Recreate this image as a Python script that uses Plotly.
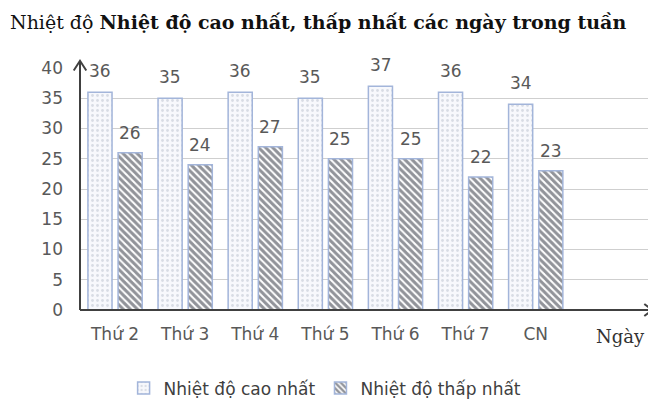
import plotly.graph_objects as go

categories = ["Thứ 2", "Thứ 3", "Thứ 4", "Thứ 5", "Thứ 6", "Thứ 7", "CN"]
high_temps = [36, 35, 36, 35, 37, 36, 34]
low_temps = [26, 24, 27, 25, 25, 22, 23]
series_names = ["Nhiệt độ cao nhất", "Nhiệt độ thấp nhất"]
y_ticks = [0, 5, 10, 15, 20, 25, 30, 35, 40]

FONT = "DejaVu Sans"
SERIF = "DejaVu Serif"
GRAY = "#595959"

fig = go.Figure()
fig.add_trace(go.Bar(
    x=categories, y=high_temps, name=series_names[0],
    marker=dict(color="#f4f6fb", line=dict(color="#a3b5da", width=1.5),
                pattern=dict(shape=".", fgcolor="#b8bfcc", bgcolor="#f7f8fc", size=5, solidity=0.25)),
))
fig.add_trace(go.Bar(
    x=categories, y=low_temps, name=series_names[1],
    marker=dict(color="#ffffff", line=dict(color="#a3b5da", width=1.5),
                pattern=dict(shape="\\", fgcolor="#232733", bgcolor="#ffffff", size=5, solidity=0.6)),
))

# data labels
for i, c in enumerate(categories):
    fig.add_annotation(x=c, y=high_temps[i], text=str(high_temps[i]), showarrow=False,
                       xshift=-15, yshift=21, font=dict(family=FONT, size=17, color=GRAY))
    fig.add_annotation(x=c, y=low_temps[i], text=str(low_temps[i]), showarrow=False,
                       xshift=15, yshift=20, font=dict(family=FONT, size=17, color=GRAY))

# title
fig.add_annotation(xref="paper", yref="paper", x=-0.126, y=1.19, xanchor="left", yanchor="middle",
                   showarrow=False,
                   text="Nhiệt độ <b>Nhiệt độ cao nhất, thấp nhất các ngày trong tuần</b>",
                   font=dict(family=SERIF, size=19, color="#111111"))
# x axis title
fig.add_annotation(xref="paper", yref="paper", x=0.948, y=-0.11, xanchor="center", yanchor="middle",
                   showarrow=False, text="Ngày",
                   font=dict(family=SERIF, size=18, color="#333333"))

# axis arrows
AX = "#404040"
fig.add_shape(type="line", xref="paper", yref="paper", x0=0, y0=0, x1=0, y1=1.025,
              line=dict(color=AX, width=2))
fig.add_shape(type="path", xref="paper", yref="paper",
              path="M -0.011 0.99 L 0 1.03 L 0.011 0.99", line=dict(color=AX, width=2))
fig.add_shape(type="line", xref="paper", yref="paper", x0=0, y0=0, x1=1.003, y1=0,
              line=dict(color=AX, width=2))
fig.add_shape(type="path", xref="paper", yref="paper",
              path="M 0.99 0.025 L 1.004 0 L 0.99 -0.025", line=dict(color=AX, width=2))

fig.update_layout(
    width=656, height=401,
    margin=dict(l=72, r=14, t=60, b=99, autoexpand=False),
    paper_bgcolor="white", plot_bgcolor="white",
    barmode="group", bargap=0.14, bargroupgap=0.2,
    showlegend=True,
    legend=dict(orientation="h", x=0.43, y=-0.25, xanchor="center", yanchor="top",
                font=dict(family=FONT, size=17, color="#404040"),
                itemwidth=30, traceorder="normal"),
    xaxis=dict(range=[-0.5, 7.63], showgrid=False, showline=False, ticks="",
               ticklabelstandoff=12,
               tickfont=dict(family=FONT, size=17, color=GRAY)),
    yaxis=dict(range=[0, 40], tickvals=y_ticks, showgrid=True, gridcolor="#cfcfcf", gridwidth=1,
               showline=False, zeroline=False, ticks="", ticklabelstandoff=16,
               tickfont=dict(family=FONT, size=17, color=GRAY)),
)

fig.write_html("out.html")
